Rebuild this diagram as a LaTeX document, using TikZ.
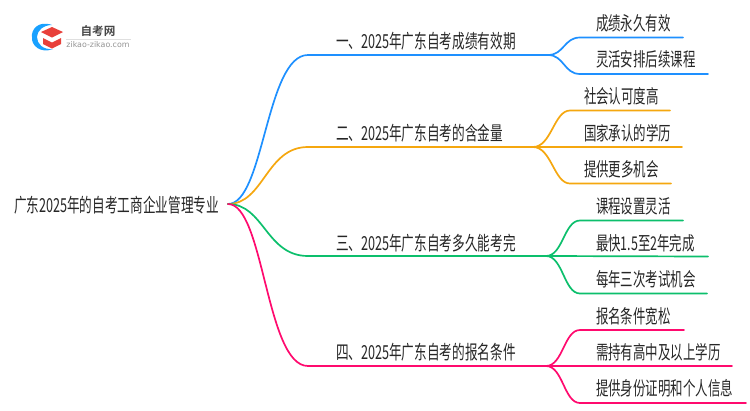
\documentclass[tikz,border=0pt]{standalone}
\usepackage{fontspec}
\setmainfont{Noto Sans CJK SC}[FakeStretch=0.655]
\newfontfamily\latinsmall{DejaVu Sans}
\newfontfamily\logofont{Noto Sans CJK SC Bold}
\definecolor{cblue}{HTML}{1E90FF}
\definecolor{corange}{HTML}{F5A70F}
\definecolor{cgreen}{HTML}{0CBF6C}
\definecolor{cpink}{HTML}{FF0A6E}
\definecolor{ink}{HTML}{262626}
\definecolor{capred}{HTML}{E8403A}
\usetikzlibrary{calc}
\tikzset{
  lbl/.style={anchor=west,inner sep=0pt,outer sep=0pt,text=ink,font=\fontsize{19}{21}\selectfont},
  biglbl/.style={lbl,font=\fontsize{19.3}{21}\selectfont},
  link/.style={line width=1.7pt,line cap=round},
}
\newcommand{\stem}[3]{\draw[link,#1] (#2) .. controls ($(#2)+(36,0)$) and ($(#3)+(-42,0)$) .. (#3);}
\newcommand{\twig}[4]{\draw[link,#1] (#2) .. controls ($(#2)!0.5!(#3|-#2)$) and ($(#3)+(-16,0)$) .. (#3) -- (#4);}
\begin{document}
\begin{tikzpicture}[x=1pt,y=-1pt]
\useasboundingbox (0,0) rectangle (750,410);
% logo
\fill[cblue!85!cyan] (52,25) .. controls (38,20) and (31,30) .. (32,37) .. controls (31,45) and (40,54) .. (53,49) .. controls (43,50) and (37,44) .. (37,37) .. controls (37,31) and (43,25) .. (52,25) -- cycle;
\fill[capred] (41,32) -- (52,27) -- (63,32) -- (52,37.5) -- cycle;
\fill[capred] (43,38) -- (52,42.5) -- (61,38) -- (61,44) -- (52,48.5) -- (43,44) -- cycle;
\draw[gray!25,line width=.6pt] (66,39) -- (131,39);
\node[inner sep=0pt,text=ink!85,font=\logofont\fontsize{11.6}{14}\selectfont] (logotitle) at (98,31) {自考网};
\node[inner sep=0pt,text=gray!85,font=\latinsmall\fontsize{7.9}{9}\selectfont] (logourl) at (98,45) {zikao-zikao.com};
% nodes
\node[biglbl] (root) at (14,205) {广东2025年的自考工商企业管理专业};
\node[biglbl] (b1) at (336,41) {一、2025年广东自考成绩有效期};
\node[biglbl] (b2) at (336,133) {二、2025年广东自考的含金量};
\node[biglbl] (b3) at (336,243) {三、2025年广东自考多久能考完};
\node[biglbl] (b4) at (336,352) {四、2025年广东自考的报名条件};
\node[lbl] (l11) at (596,23) {成绩永久有效};
\node[lbl] (l12) at (596,59) {灵活安排后续课程};
\node[lbl] (l21) at (584,96) {社会认可度高};
\node[lbl] (l22) at (584,133) {国家承认的学历};
\node[lbl] (l23) at (584,169) {提供更多机会};
\node[lbl] (l31) at (596,206) {课程设置灵活};
\node[lbl] (l32) at (596,243) {最快1.5至2年完成};
\node[lbl] (l33) at (596,279) {每年三次考试机会};
\node[lbl] (l41) at (596,316) {报名条件宽松};
\node[lbl] (l42) at (596,352) {需持有高中及以上学历};
\node[lbl] (l43) at (596,388) {提供身份证明和个人信息};
% connector anchor points
\coordinate (o) at (228,204);
\coordinate (k1) at (308,55); \coordinate (h1) at (548,55);
\coordinate (k2) at (308,147); \coordinate (h2) at (533,147);
\coordinate (k3) at (308,256); \coordinate (h3) at (546,256);
\coordinate (k4) at (308,366); \coordinate (h4) at (546,366);
\coordinate (a11) at (580,37.5); \coordinate (e11) at (683,37.5);
\coordinate (a12) at (580,74); \coordinate (e12) at (708,74);
\coordinate (a21) at (570,110.5); \coordinate (e21) at (670,110.5);
\coordinate (e22) at (682,147);
\coordinate (a23) at (570,183.5); \coordinate (e23) at (671,183.5);
\coordinate (a31) at (580,220.5); \coordinate (e31) at (683,220.5);
\coordinate (e32) at (708,256.5);
\coordinate (a33) at (580,293.5); \coordinate (e33) at (707,293.5);
\coordinate (a41) at (580,330); \coordinate (e41) at (684,330);
\coordinate (e42) at (732,366);
\coordinate (a43) at (580,403); \coordinate (e43) at (746,403);
% connectors
\stem{cblue}{o}{k1}
\stem{corange}{o}{k2}
\stem{cgreen}{o}{k3}
\stem{cpink}{o}{k4}
\draw[link,cblue] (k1) -- (h1);
\draw[link,corange] (k2) -- (h2);
\draw[link,cgreen] (k3) -- (h3);
\draw[link,cpink] (k4) -- (h4);
\twig{cblue}{h1}{a11}{e11}
\twig{cblue}{h1}{a12}{e12}
\twig{corange}{h2}{a21}{e21}
\draw[link,corange] (h2) -- (e22);
\twig{corange}{h2}{a23}{e23}
\twig{cgreen}{h3}{a31}{e31}
\draw[link,cgreen] (h3) -- (e32);
\twig{cgreen}{h3}{a33}{e33}
\twig{cpink}{h4}{a41}{e41}
\draw[link,cpink] (h4) -- (e42);
\twig{cpink}{h4}{a43}{e43}
\end{tikzpicture}
\end{document}
